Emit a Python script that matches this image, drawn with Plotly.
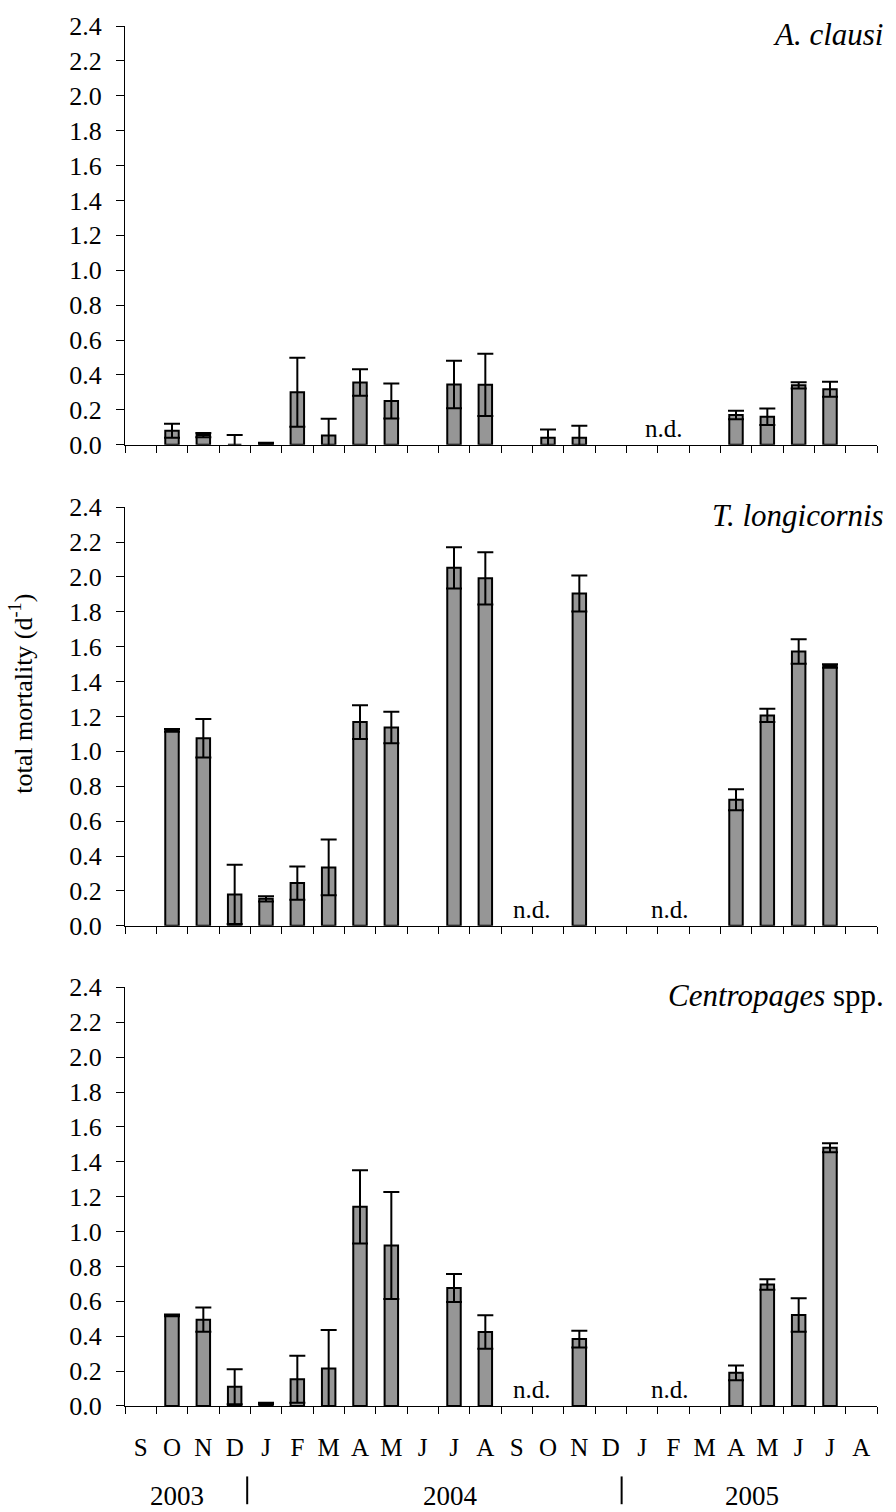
import plotly.graph_objects as go

# ---------------- data ----------------
months = ["S", "O", "N", "D", "J", "F", "M", "A", "M", "J", "J", "A",
          "S", "O", "N", "D", "J", "F", "M", "A", "M", "J", "J", "A"]

aclausi = [None, 0.08, 0.055, 0.0, 0.008, 0.30, 0.053, 0.356, 0.25, None, 0.345, 0.343,
           None, 0.04, 0.04, None, None, None, None, 0.17, 0.16, 0.34, 0.318, None]
aclausi_err = [None, 0.04, 0.012, 0.055, 0.003, 0.198, 0.095, 0.076, 0.10, None, 0.136, 0.178,
               None, 0.047, 0.068, None, None, None, None, 0.024, 0.047, 0.018, 0.043, None]

tlong = [None, 1.12, 1.075, 0.18, 0.155, 0.245, 0.335, 1.168, 1.137, None, 2.052, 1.992,
         None, None, 1.905, None, None, None, None, 0.723, 1.206, 1.573, 1.49, None]
tlong_err = [None, 0.008, 0.11, 0.17, 0.015, 0.095, 0.16, 0.097, 0.09, None, 0.118, 0.15,
             None, None, 0.103, None, None, None, None, 0.06, 0.038, 0.07, 0.01, None]

centro = [None, 0.52, 0.495, 0.11, 0.015, 0.153, 0.215, 1.142, 0.92, None, 0.676, 0.424,
          None, None, 0.384, None, None, None, None, 0.19, 0.697, 0.522, 1.48, None]
centro_err = [None, 0.005, 0.07, 0.10, 0.003, 0.135, 0.22, 0.21, 0.307, None, 0.08, 0.096,
              None, None, 0.048, None, None, None, None, 0.042, 0.03, 0.096, 0.026, None]

species = ["<i>A. clausi</i>", "<i>T. longicornis</i>", "<i>Centropages</i> spp."]
nd_positions = [[16.7], [12.5, 16.9], [12.5, 16.9]]
years = ["2003", "2004", "2005"]
year_pos = [1.15, 9.9, 19.5]
year_sep = [3.4, 15.35]
yticks = [0.0, 0.2, 0.4, 0.6, 0.8, 1.0, 1.2, 1.4, 1.6, 1.8, 2.0, 2.2, 2.4]

series = [(aclausi, aclausi_err), (tlong, tlong_err), (centro, centro_err)]

# ---------------- layout geometry (pixels) ----------------
W, H = 896, 1512
ML, MR, MT, MB = 125, 19, 15, 106
plot_h = H - MT - MB
panels_px = [(15, 437), (500, 922), (984, 1406)]


def py(p):
    return 1 - (p - MT) / plot_h


FONT = "Liberation Serif"
x_idx = list(range(len(months)))
boundaries = [i - 0.5 for i in range(len(months) + 1)]

fig = go.Figure()
for i, (vals, errs) in enumerate(series):
    ax = "" if i == 0 else str(i + 1)
    fig.add_trace(go.Bar(
        x=x_idx, y=vals,
        error_y=dict(type="data", array=errs, visible=True, color="black",
                     thickness=2, width=8),
        marker=dict(color="#969696", line=dict(color="black", width=2)),
        width=0.43,
        xaxis="x" + ax, yaxis="y" + ax,
        showlegend=False,
    ))

layout = dict(
    width=W, height=H,
    margin=dict(l=ML, r=MR, t=MT, b=MB, pad=0),
    plot_bgcolor="white", paper_bgcolor="white",
    font=dict(family=FONT, size=24, color="black"),
)

annotations = []
for i in range(3):
    ax = "" if i == 0 else str(i + 1)
    top, bot = panels_px[i]
    last = (i == 2)
    xa = dict(
        domain=[0, 1], anchor="y" + ax,
        range=[-0.5, len(months) - 0.5],
        ticks="",
        showline=True, linecolor="black", linewidth=1,
        showgrid=False, zeroline=False,
        minor=dict(tickmode="array", tickvals=boundaries, ticks="outside",
                   ticklen=7, tickcolor="black", tickwidth=1, showgrid=False),
    )
    if last:
        xa.update(tickmode="array", tickvals=x_idx, ticktext=months,
                  showticklabels=True,
                  tickfont=dict(family=FONT, size=25),
                  ticklabelstandoff=19)
    else:
        xa.update(tickmode="array", tickvals=x_idx, showticklabels=False)
    layout["xaxis" + ax] = xa
    layout["yaxis" + ax] = dict(
        domain=[py(bot), py(top)], anchor="x" + ax,
        range=[0, 2.4], tickmode="array", tickvals=yticks, tickformat=".1f",
        ticks="outside", ticklen=8, tickcolor="black", tickwidth=1,
        tickfont=dict(family=FONT, size=26),
        ticklabelstandoff=9,
        showline=True, linecolor="black", linewidth=1,
        showgrid=False, zeroline=False,
    )
    annotations.append(dict(
        text=species[i], xref="x" + ax + " domain", yref="y" + ax + " domain",
        x=1, y=1, xanchor="right", yanchor="middle", xshift=9, yshift=-8,
        showarrow=False, font=dict(family=FONT, size=31),
    ))
    for xp in nd_positions[i]:
        annotations.append(dict(
            text="n.d.", xref="x" + ax, yref="y" + ax, x=xp, y=0,
            xanchor="center", yanchor="bottom", yshift=1,
            showarrow=False, font=dict(family=FONT, size=25),
        ))

annotations.append(dict(
    text="total mortality (d<sup>-1</sup>)", xref="paper", yref="paper",
    x=0, y=py(688), xshift=-(ML - 22), xanchor="center", yanchor="middle",
    textangle=-90, showarrow=False, font=dict(family=FONT, size=26),
))
for yr, xp in zip(years, year_pos):
    annotations.append(dict(
        text=yr, xref="x3", yref="paper", x=xp, y=py(1497),
        xanchor="center", yanchor="middle", showarrow=False,
        font=dict(family=FONT, size=27),
    ))

shapes = []
for xs in year_sep:
    shapes.append(dict(type="line", xref="x3", yref="paper", x0=xs, x1=xs,
                       y0=py(1477), y1=py(1505),
                       line=dict(color="black", width=2)))

layout["annotations"] = annotations
layout["shapes"] = shapes
fig.update_layout(**layout)

fig.write_html("out.html")
